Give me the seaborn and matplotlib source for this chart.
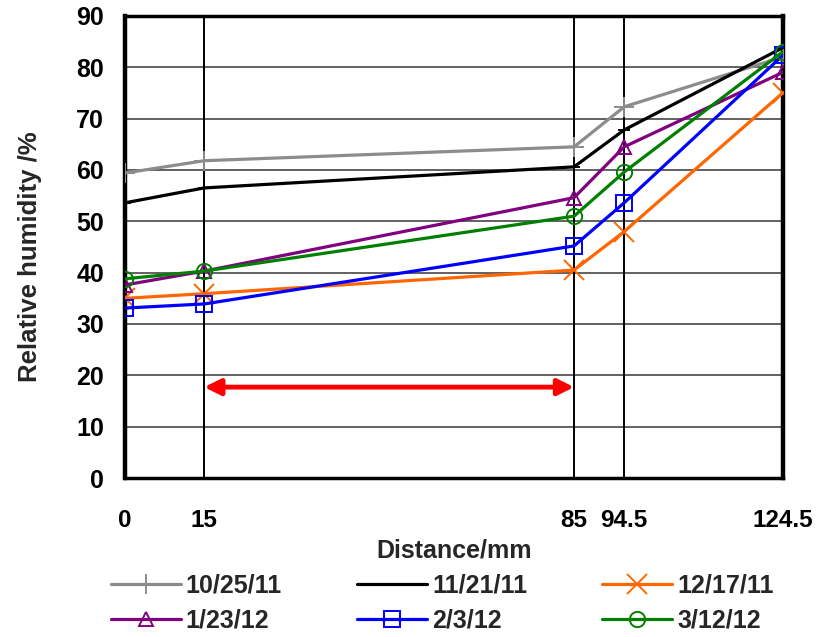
import matplotlib
matplotlib.use("Agg")
import matplotlib.pyplot as plt
from matplotlib import font_manager
import seaborn as sns
import pandas as pd

# ---- data ----
distance = [0, 15, 85, 94.5, 124.5]
dates = ["10/25/11", "11/21/11", "12/17/11", "1/23/12", "2/3/12", "3/12/12"]
rh_102511 = [59.4, 61.8, 64.5, 72.3, 82.0]
rh_112111 = [53.6, 56.5, 60.6, 67.8, 83.8]
rh_121711 = [35.0, 35.9, 40.5, 48.0, 75.0]
rh_012312 = [37.6, 40.3, 54.6, 64.5, 79.0]
rh_020312 = [33.1, 33.9, 45.2, 53.6, 82.3]
rh_031212 = [38.8, 40.3, 51.0, 59.6, 83.0]
series = [rh_102511, rh_112111, rh_121711, rh_012312, rh_020312, rh_031212]
xtick_labels = ["0", "15", "85", "94.5", "124.5"]
yticks = list(range(0, 100, 10))
vlines_at = [15, 85, 94.5]
arrow_from, arrow_to, arrow_level = 15, 85, 17.7

colors = ["#8c8c8c", "#000000", "#ff6600", "#800080", "#0000ff", "#008000"]
markers = ["+", "_", "x", "^", "s", "o"]
msizes = [15, 9, 14, 10, 11, 11]

sns.set_theme(style="white")
names = {f.name for f in font_manager.fontManager.ttflist}
narrow = "Liberation Sans Narrow" if "Liberation Sans Narrow" in names else "Liberation Sans"
plt.rcParams["font.family"] = ["Liberation Sans", "DejaVu Sans"]

fig = plt.figure(figsize=(8.17, 6.37), dpi=100)
ax = fig.add_axes([0.153, 0.2496, 0.805, 0.7254])

for y in yticks[1:-1]:
    ax.axhline(y, color="#555555", lw=1.3, zorder=1)
for xv in vlines_at:
    ax.axvline(xv, color="black", lw=1.4, zorder=1)

for name, vals, c, m, ms in zip(dates, series, colors, markers, msizes):
    df = pd.DataFrame({"Distance": distance, "RH": vals})
    sns.lineplot(data=df, x="Distance", y="RH", ax=ax, color=c, marker=m,
                 markersize=ms, mfc="none", mec=c, mew=1.4, lw=2.3,
                 label=name, zorder=3, legend=False)

ax.annotate("", xy=(arrow_from, arrow_level), xytext=(arrow_to, arrow_level),
            arrowprops=dict(arrowstyle="<|-|>", color="red", lw=3.5,
                            mutation_scale=24, shrinkA=0, shrinkB=0), zorder=4)

ax.set_xlim(0, 124.5)
ax.set_ylim(0, 90)
ax.set_xticks(distance)
ax.set_xticklabels(xtick_labels, fontfamily=narrow, fontweight="bold", fontsize=17.5)
ax.set_yticks(yticks)
ax.set_yticklabels([str(v) for v in yticks], fontweight="bold", fontsize=18)
ax.tick_params(axis="x", length=0, pad=22, colors="black")
ax.tick_params(axis="y", direction="in", length=5, width=1.5, pad=15, colors="black")
ax.set_xlabel("Distance/mm", fontfamily=narrow, fontweight="bold", fontsize=18, labelpad=5)
ax.set_ylabel("Relative humidity /%", fontweight="bold", fontsize=18.5)
ax.yaxis.set_label_coords(-0.126, 0.48)

for side, lw in [("left", 3.2), ("right", 3.2), ("bottom", 2.5), ("top", 2.5)]:
    ax.spines[side].set_visible(True)
    ax.spines[side].set_color("black")
    ax.spines[side].set_linewidth(lw)

handles = ax.get_lines()
handles = [h for h in handles if h.get_label() in dates]
order = [0, 3, 1, 4, 2, 5]
leg = fig.legend([handles[i] for i in order], [dates[i] for i in order],
                 loc="center left", bbox_to_anchor=(0.111, 0.053), ncol=3,
                 frameon=False, handlelength=2.8, handletextpad=0.2,
                 columnspacing=3.0, labelspacing=0.45, borderpad=0.3,
                 prop=font_manager.FontProperties(family=narrow, weight="bold", size=18))

fig.savefig("out.png", dpi=100)
